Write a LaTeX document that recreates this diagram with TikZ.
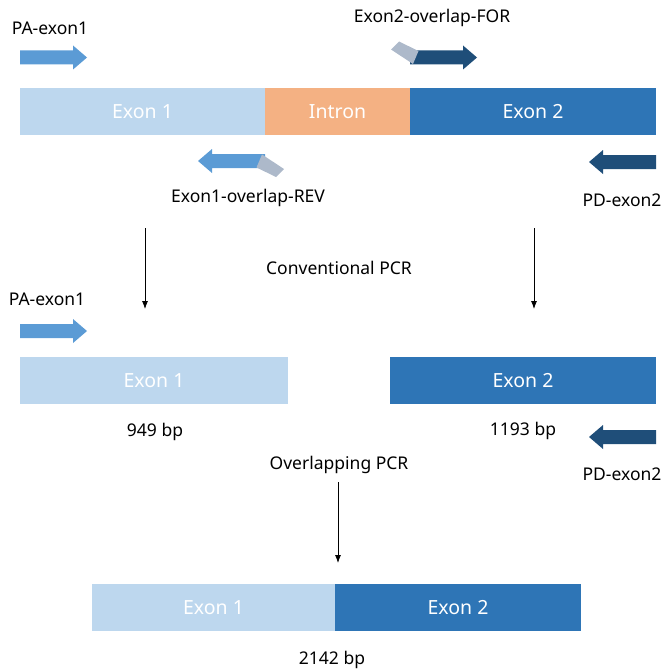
\documentclass[tikz,border=0pt]{standalone}
\usepackage{fontspec}
\setmainfont{Noto Sans}
\usepackage{tikz}
\usetikzlibrary{arrows.meta, positioning}
\definecolor{exonone}{HTML}{BDD7EE}
\definecolor{intronc}{HTML}{F4B183}
\definecolor{exontwo}{HTML}{2E75B6}
\definecolor{primerlight}{HTML}{5B9BD5}
\definecolor{primerdark}{HTML}{1F4E79}
\definecolor{tailgrey}{HTML}{ADB9CA}

\tikzset{
    primer/.pic={\path[pic actions] (0,-7) -- (53,-7) -- (53,-12) -- (67,0) -- (53,12) -- (53,7) -- (0,7) -- cycle;},
    overlap primer/.pic={
        \path[pic actions] (0,-7) -- (53,-7) -- (53,-12) -- (67,0) -- (53,12) -- (53,7) -- (0,7) -- cycle;
        \path[fill=tailgrey] (3,6.5) -- (8.5,-6.5) -- (-11,-16) -- (-19,-8) -- cycle;}
}

\begin{document}
\begin{tikzpicture}[
    x=1pt, y=-1pt,
    bar/.style={rectangle, outer sep=0pt, inner sep=0pt, minimum height=47pt, text=white, font=\fontsize{19.5}{23}\selectfont},
    exonbox/.style={bar, fill=exonone},
    intronbox/.style={bar, fill=intronc},
    exontwobox/.style={bar, fill=exontwo},
    lbl/.style={inner sep=0pt, font=\fontsize{17.5}{21}\selectfont},
    pcrarrow/.style={-{Latex[length=8pt, width=6pt]}, line width=0.8pt}
]
\useasboundingbox (0,0) rectangle (662,669);

% Gene
\node[exonbox, minimum width=245pt, anchor=north west] (topexon1) at (20,88) {Exon 1};
\node[intronbox, minimum width=145pt, right=0pt of topexon1] (intron) {Intron};
\node[exontwobox, minimum width=246pt, right=0pt of intron] (topexon2) {Exon 2};

% Primers
\pic[fill=primerlight] (pa1) at (20,57.5) {primer};
\pic[fill=primerdark] (for) at (410,57.5) {overlap primer};
\pic[fill=primerlight, rotate=180] (rev) at (265,161) {overlap primer};
\pic[fill=primerdark, rotate=180] (pd1) at (656,162) {primer};
\node[lbl] (pa1lbl) at (50,28) {PA-exon1};
\node[lbl] (forlbl) at (432,18) {Exon2-overlap-FOR};
\node[lbl] (revlbl) at (248,198) {Exon1-overlap-REV};
\node[lbl] (pd1lbl) at (622,200) {PD-exon2};

% Conventional PCR
\coordinate (down1) at (145,228);
\coordinate (end1) at (145,309);
\coordinate (down2) at (534,228);
\coordinate (end2) at (534,309);
\draw[pcrarrow] (down1) -- (end1);
\draw[pcrarrow] (down2) -- (end2);
\node[lbl] (conv) at (339,268) {Conventional PCR};

\pic[fill=primerlight] (pa2) at (20,331) {primer};
\node[lbl] (pa2lbl) at (47,299) {PA-exon1};
\node[exonbox, minimum width=268pt, anchor=north west] (midexon1) at (20,357) {Exon 1};
\node[exontwobox, minimum width=266pt, anchor=north west] (midexon2) at (390,357) {Exon 2};
\node[lbl] (size1) at (155,432) {949 bp};
\node[lbl] (size2) at (523,431) {1193 bp};
\pic[fill=primerdark, rotate=180] (pd2) at (656,437) {primer};
\node[lbl] (pd2lbl) at (622,474) {PD-exon2};

% Overlapping PCR
\node[lbl] (overlap) at (339,465) {Overlapping PCR};
\coordinate (down3) at (338,482);
\coordinate (end3) at (338,563);
\draw[pcrarrow] (down3) -- (end3);

\node[exonbox, minimum width=243pt, anchor=north west] (fusexon1) at (92,584) {Exon 1};
\node[exontwobox, minimum width=246pt, right=0pt of fusexon1] (fusexon2) {Exon 2};
\node[lbl] (size3) at (332,660) {2142 bp};

\end{tikzpicture}
\end{document}
